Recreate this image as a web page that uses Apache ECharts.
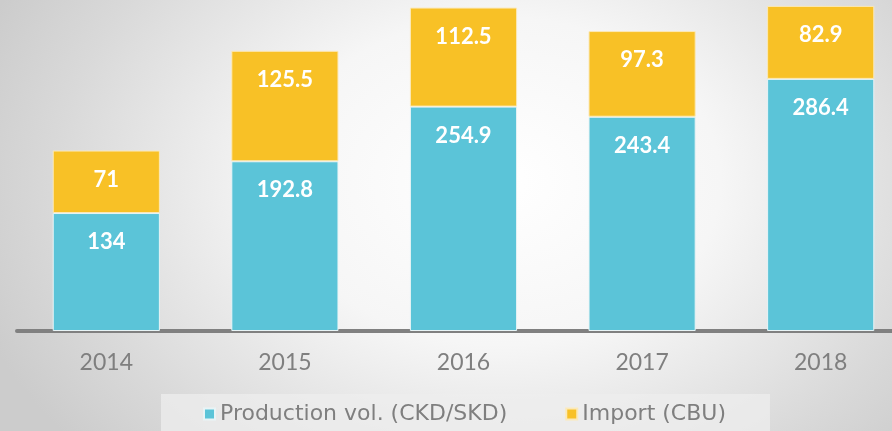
<!DOCTYPE html>
<html>
<head>
<meta charset="utf-8">
<script src="https://cdn.jsdelivr.net/npm/echarts@6/dist/echarts.min.js"></script>
<style>
  html, body { margin: 0; padding: 0; }
  body {
    width: 892px; height: 431px; overflow: hidden;
    background: radial-gradient(ellipse 62% 95% at 56% 42%, #ffffff 0%, #f6f6f6 40%, #d9d9d9 80%, #cccccc 100%);
  }
  #chart { width: 892px; height: 431px; }
</style>
</head>
<body>
<div id="chart"></div>
<script>
// data
var years = ['2014', '2015', '2016', '2017', '2018']
var production = [134, 192.8, 254.9, 243.4, 286.4]
var imports = [71, 125.5, 112.5, 97.3, 82.9]
var seriesNames = ['Production vol. (CKD/SKD)', 'Import (CBU)']

var chart = echarts.init(document.getElementById('chart'))

var segLabel = {
  show: true,
  position: 'insideTop',
  distance: 18,
  color: '#ffffff',
  fontFamily: 'Lato',
  fontWeight: 'bold',
  fontSize: 22
}

chart.setOption({
  backgroundColor: 'transparent',
  animation: false,
  grid: { left: 17, width: 893, top: 0, bottom: 100, outerBoundsMode: 'none', containLabel: false },
  legend: {
    data: seriesNames,
    left: 161,
    top: 394,
    padding: [9, 44, 12, 42],
    backgroundColor: 'rgba(238,238,238,0.75)',
    itemWidth: 11,
    itemHeight: 11,
    itemGap: 58,
    icon: 'rect',
    textStyle: { color: '#7f7f7f', fontFamily: 'DejaVu Sans', fontSize: 22 }
  },
  xAxis: {
    type: 'category',
    data: years,
    axisLine: { lineStyle: { color: '#808080', width: 4 } },
    axisTick: { show: false },
    axisLabel: { color: '#7f7f7f', fontFamily: 'Lato', fontSize: 23, margin: 20 }
  },
  yAxis: {
    type: 'value',
    min: 0,
    max: 376,
    show: false,
    splitLine: { show: false }
  },
  series: [
    {
      name: seriesNames[0],
      type: 'bar',
      stack: 'total',
      barCategoryGap: '40%',
      data: production,
      itemStyle: { color: '#5bc4d8', borderColor: '#e8f4f6', borderWidth: 1 },
      label: segLabel
    },
    {
      name: seriesNames[1],
      type: 'bar',
      stack: 'total',
      barCategoryGap: '40%',
      data: imports,
      itemStyle: { color: '#f8c126', borderColor: '#fbe9b8', borderWidth: 1 },
      label: segLabel
    }
  ]
})
</script>
</body>
</html>
